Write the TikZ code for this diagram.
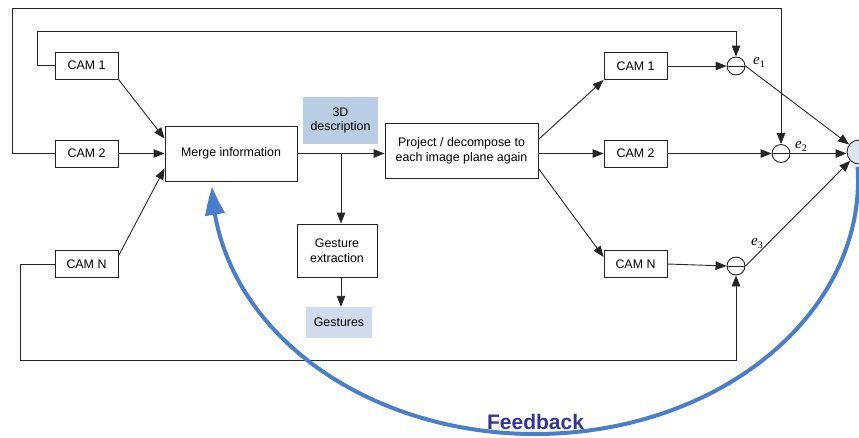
\documentclass[tikz,border=0pt]{standalone}
\usepackage{fontspec}
\setmainfont{Liberation Sans}
\newfontfamily\serifface{Liberation Serif}
\usetikzlibrary{arrows.meta,bending,calc}

\definecolor{linecol}{HTML}{262626}
\definecolor{descfill}{HTML}{B9CDE5}
\definecolor{gestfill}{HTML}{D0DCEE}
\definecolor{outfill}{HTML}{DCE6F2}
\definecolor{fbcol}{HTML}{4A7EC8}
\definecolor{fbtext}{HTML}{333399}

\newcommand{\errlabel}[1]{{\serifface\fontsize{15}{15}\selectfont\itshape e\kern0.3pt\raisebox{-3pt}{\upshape\fontsize{10}{10}\selectfont #1}}}

\tikzset{
  lbl/.style={font=\fontsize{12.4}{14.8}\selectfont, align=center, inner sep=0pt},
  box/.style={lbl, draw=linecol, line width=0.9pt},
  cam/.style={box, minimum width=63pt, minimum height=27pt},
  sumnode/.style={circle, draw=linecol, line width=0.9pt, minimum size=18pt, inner sep=0pt,
    path picture={\draw[linecol, line width=0.9pt] (path picture bounding box.west) -- (path picture bounding box.east);}},
  wire/.style={draw=linecol, line width=0.9pt},
  arr/.style={wire, -{Triangle[length=11pt,width=8.5pt]}},
  fb/.style={draw=fbcol, line width=4pt, -{Triangle[length=28pt,width=19pt,bend]}},
}

\begin{document}
\begin{tikzpicture}[x=1pt,y=-1pt]
\useasboundingbox (0,0) rectangle (859,437);

% input cameras
\node[cam] (cam1L) at (86.5,65.5) {CAM 1};
\node[cam] (cam2L) at (86.5,153.5) {CAM 2};
\node[cam] (camNL) at (86.5,264) {CAM N};

% processing chain
\node[box, minimum width=132pt, minimum height=55pt] (merge) at (231,153.5) {Merge information};
\node[lbl, fill=descfill, minimum width=75pt, minimum height=47pt] (desc) at (340.5,120.5) {3D\\description};
\node[box, minimum width=153pt, minimum height=55pt] (proj) at (461.5,150.5) {Project / decompose to\\each image plane again};
\node[box, minimum width=80pt, minimum height=53pt] (gest) at (337,250.5) {Gesture\\extraction};
\node[lbl, fill=gestfill, minimum width=66pt, minimum height=31pt] (gestures) at (339,322.5) {Gestures};

% reprojected cameras
\node[cam] (cam1R) at (635.5,66) {CAM 1};
\node[cam] (cam2R) at (635.5,153.5) {CAM 2};
\node[cam] (camNR) at (635.5,264) {CAM N};

% comparison junctions and output
\node[sumnode] (e1) at (736,66) {};
\node[sumnode] (e2) at (781,153.5) {};
\node[sumnode] (e3) at (736,266) {};
\node[circle, draw=linecol, line width=0.9pt, fill=outfill, minimum size=24pt, inner sep=0pt] (out) at (859,152) {};

\node (l1) at (759,62) {\errlabel{1}};
\node (l2) at (801,146) {\errlabel{2}};
\node (l3) at (757,244) {\errlabel{3}};

% cameras into merge
\draw[arr] (cam1L.south east) -- ($(merge.west)+(0,-15)$);
\draw[arr] (cam2L.east) -- (cam2L.east -| merge.west);
\draw[arr] ($(camNL.east)+(0,-8)$) -- ($(merge.west)+(0,15)$);

% merge to projection, branch to gesture extraction
\coordinate (br) at (341,153.5);
\draw[arr] (merge.east) -- (merge.east -| proj.west);
\draw[arr] (br) -- (br |- gest.north);
\draw[arr] (br |- gest.south) -- (br |- gestures.north);

% projection to cameras
\draw[arr] ($(proj.east)+(0,-11)$) -- (cam1R.south west);
\draw[arr] (proj.east |- cam2R.west) -- (cam2R.west);
\draw[arr] ($(proj.south east)+(0,-10)$) -- ($(camNR.west)+(0,-7)$);

% cameras to junctions
\draw[arr] (cam1R.east) -- (e1.west);
\draw[arr] (cam2R.east) -- (e2.west);
\draw[arr] (camNR.east) -- (e3.west);

% measured views looped back
\draw[arr] (cam1L.west) -| (37,31) -| (e1.north);
\draw[arr] (cam2L.west) -| (12,8) -| (e2.north);
\draw[arr] (camNL.west) -| (20,360) -| (e3.south);

% errors to output
\draw[arr] (e1.east) -- (out);
\draw[arr] (e2.east) -- (e2.east -| out.west);
\draw[arr] (e3.east) -- (out);

% feedback loop
\draw[fb] (535,180) ++(-3:323 and 254) arc[start angle=-3, end angle=178.5, x radius=323, y radius=254];
\node[font=\bfseries\fontsize{21}{21}\selectfont, text=fbtext, anchor=base, inner sep=0pt] (fbl) at (535.5,429) {Feedback};
\end{tikzpicture}
\end{document}
